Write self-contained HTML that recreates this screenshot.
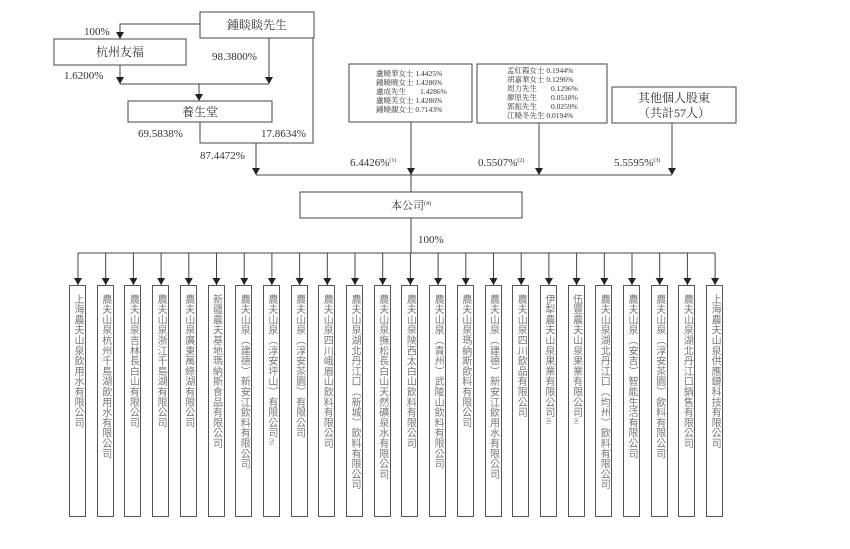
<!DOCTYPE html>
<html><head><meta charset="utf-8"><style>
body{margin:0;background:#fff;}
#c{position:relative;width:850px;height:549px;overflow:hidden;font-family:"Liberation Serif","Noto Serif CJK SC",serif;color:#333;}
svg{position:absolute;left:0;top:0;}
.v{position:absolute;top:285px;width:17px;height:232px;border:1px solid #555;box-sizing:border-box;writing-mode:vertical-rl;font-family:"Liberation Sans","Noto Sans CJK TC",sans-serif;font-size:10px;line-height:15px;letter-spacing:0.3px;padding-top:8px;color:#777;text-align:start;}
.v small{font-size:5px;}
</style></head><body><div id="c">
<svg width="850" height="549" viewBox="0 0 850 549">
<defs><marker id="a" markerWidth="8" markerHeight="8" refX="7" refY="4" orient="auto" markerUnits="userSpaceOnUse"><path d="M0,0 L7,4 L0,8 z" fill="#222"/></marker></defs>
<g stroke="#444" stroke-width="1" fill="none">
<rect x="200" y="12" width="114" height="26"/>
<rect x="54" y="39" width="132" height="26"/>
<rect x="128" y="101" width="144" height="21"/>
<rect x="349" y="64" width="123" height="58"/>
<rect x="477" y="64" width="130" height="59"/>
<rect x="612" y="87" width="124" height="36"/>
<rect x="300" y="192" width="222" height="26"/>
<path d="M200 24 H120 V39" marker-end="url(#a)"/>
<path d="M120 65 V84" marker-end="url(#a)"/>
<path d="M269 38 V84" marker-end="url(#a)"/>
<path d="M120 84 H269"/>
<path d="M199 84 V101" marker-end="url(#a)"/>
<path d="M200 122 V143 H313 V38"/>
<path d="M256 143 V175" marker-end="url(#a)"/>
<path d="M256 175 H672"/>
<path d="M411 122 V175" marker-end="url(#a)"/>
<path d="M539 123 V175" marker-end="url(#a)"/>
<path d="M672 123 V175" marker-end="url(#a)"/>
<path d="M411 175 V192"/>
<path d="M411 218 V253"/>
<path d="M78 253 H715"/>
</g>
<g stroke="#444" stroke-width="1">
<line x1="78" y1="253" x2="78" y2="285" marker-end="url(#a)"/><line x1="105.7" y1="253" x2="105.7" y2="285" marker-end="url(#a)"/><line x1="133.4" y1="253" x2="133.4" y2="285" marker-end="url(#a)"/><line x1="161.1" y1="253" x2="161.1" y2="285" marker-end="url(#a)"/><line x1="188.8" y1="253" x2="188.8" y2="285" marker-end="url(#a)"/><line x1="216.5" y1="253" x2="216.5" y2="285" marker-end="url(#a)"/><line x1="244.2" y1="253" x2="244.2" y2="285" marker-end="url(#a)"/><line x1="271.9" y1="253" x2="271.9" y2="285" marker-end="url(#a)"/><line x1="299.6" y1="253" x2="299.6" y2="285" marker-end="url(#a)"/><line x1="327.3" y1="253" x2="327.3" y2="285" marker-end="url(#a)"/><line x1="355" y1="253" x2="355" y2="285" marker-end="url(#a)"/><line x1="382.7" y1="253" x2="382.7" y2="285" marker-end="url(#a)"/><line x1="410.4" y1="253" x2="410.4" y2="285" marker-end="url(#a)"/><line x1="438.1" y1="253" x2="438.1" y2="285" marker-end="url(#a)"/><line x1="465.8" y1="253" x2="465.8" y2="285" marker-end="url(#a)"/><line x1="493.5" y1="253" x2="493.5" y2="285" marker-end="url(#a)"/><line x1="521.2" y1="253" x2="521.2" y2="285" marker-end="url(#a)"/><line x1="548.9" y1="253" x2="548.9" y2="285" marker-end="url(#a)"/><line x1="576.6" y1="253" x2="576.6" y2="285" marker-end="url(#a)"/><line x1="604.3" y1="253" x2="604.3" y2="285" marker-end="url(#a)"/><line x1="632" y1="253" x2="632" y2="285" marker-end="url(#a)"/><line x1="659.7" y1="253" x2="659.7" y2="285" marker-end="url(#a)"/><line x1="687.4" y1="253" x2="687.4" y2="285" marker-end="url(#a)"/><line x1="715.1" y1="253" x2="715.1" y2="285" marker-end="url(#a)"/>
</g>
<g fill="#333" font-size="11">
<text x="257" y="29" text-anchor="middle" font-size="12">鍾睒睒先生</text>
<text x="120" y="56" text-anchor="middle" font-size="12">杭州友福</text>
<text x="200" y="116" text-anchor="middle" font-size="12">養生堂</text>
<text x="84" y="35">100%</text>
<text x="212" y="60">98.3800%</text>
<text x="64" y="79">1.6200%</text>
<text x="138" y="137">69.5838%</text>
<text x="261" y="137">17.8634%</text>
<text x="200" y="159">87.4472%</text>
<text x="350" y="166">6.4426%<tspan font-size="6" dy="-4">(1)</tspan></text>
<text x="478" y="166">0.5507%<tspan font-size="6" dy="-4">(2)</tspan></text>
<text x="614" y="166">5.5595%<tspan font-size="6" dy="-4">(3)</tspan></text>
<text x="411" y="209" text-anchor="middle" font-size="11">本公司<tspan font-size="6" dy="-4">(4)</tspan></text>
<text x="418" y="243">100%</text>
<text x="674" y="102" text-anchor="middle" font-size="12">其他個人股東</text>
<text x="674" y="117" text-anchor="middle" font-size="12">（共計57人）</text>
</g>
<g fill="#333" font-size="7.5">
<text x="376" y="76">盧曉華女士 1.4425%</text>
<text x="376" y="85">鍾曉曉女士 1.4286%</text>
<text x="376" y="94">盧成先生 <tspan x="420">1.4286%</tspan></text>
<text x="376" y="103">盧曉芙女士 1.4286%</text>
<text x="376" y="112">鍾曉靚女士 0.7143%</text>
<text x="507" y="73">孟紅霞女士 0.1944%</text>
<text x="507" y="82">胡嘉華女士 0.1296%</text>
<text x="507" y="91">周力先生 <tspan x="551">0.1296%</tspan></text>
<text x="507" y="100">廖原先生 <tspan x="551">0.0518%</tspan></text>
<text x="507" y="109">郭振先生 <tspan x="551">0.0259%</tspan></text>
<text x="507" y="118">江曉冬先生 0.0194%</text>
</g>
</svg>
<div class="v" style="left:69px">上海農夫山泉飲用水有限公司</div>
<div class="v" style="left:96.7px">農夫山泉杭州千島湖飲用水有限公司</div>
<div class="v" style="left:124.4px">農夫山泉吉林長白山有限公司</div>
<div class="v" style="left:152.1px">農夫山泉浙江千島湖有限公司</div>
<div class="v" style="left:179.8px">農夫山泉廣東萬綠湖有限公司</div>
<div class="v" style="left:207.5px">新疆農夫基地瑪納斯食品有限公司</div>
<div class="v" style="left:235.2px">農夫山泉（建德）新安江飲料有限公司</div>
<div class="v" style="left:262.9px">農夫山泉（淳安坪山）有限公司<small>(5)</small></div>
<div class="v" style="left:290.6px">農夫山泉（淳安茶園）有限公司</div>
<div class="v" style="left:318.3px">農夫山泉四川峨眉山飲料有限公司</div>
<div class="v" style="left:346px">農夫山泉湖北丹江口（新城）飲料有限公司</div>
<div class="v" style="left:373.7px">農夫山泉撫松長白山天然礦泉水有限公司</div>
<div class="v" style="left:401.4px">農夫山泉陝西太白山飲料有限公司</div>
<div class="v" style="left:429.1px">農夫山泉（貴州）武陵山飲料有限公司</div>
<div class="v" style="left:456.8px">農夫山泉瑪納斯飲料有限公司</div>
<div class="v" style="left:484.5px">農夫山泉（建德）新安江飲用水有限公司</div>
<div class="v" style="left:512.2px">農夫山泉四川飲品有限公司</div>
<div class="v" style="left:539.9px">伊犁農夫山泉果業有限公司<small>(6)</small></div>
<div class="v" style="left:567.6px">伍豐農夫山泉果業有限公司<small>(6)</small></div>
<div class="v" style="left:595.3px">農夫山泉湖北丹江口（均州）飲料有限公司</div>
<div class="v" style="left:623px">農夫山泉（安吉）智能生活有限公司</div>
<div class="v" style="left:650.7px">農夫山泉（淳安茶園）飲料有限公司</div>
<div class="v" style="left:678.4px">農夫山泉湖北丹江口銷售有限公司</div>
<div class="v" style="left:706.1px">上海農夫山泉供應鏈科技有限公司</div>
</div></body></html>
